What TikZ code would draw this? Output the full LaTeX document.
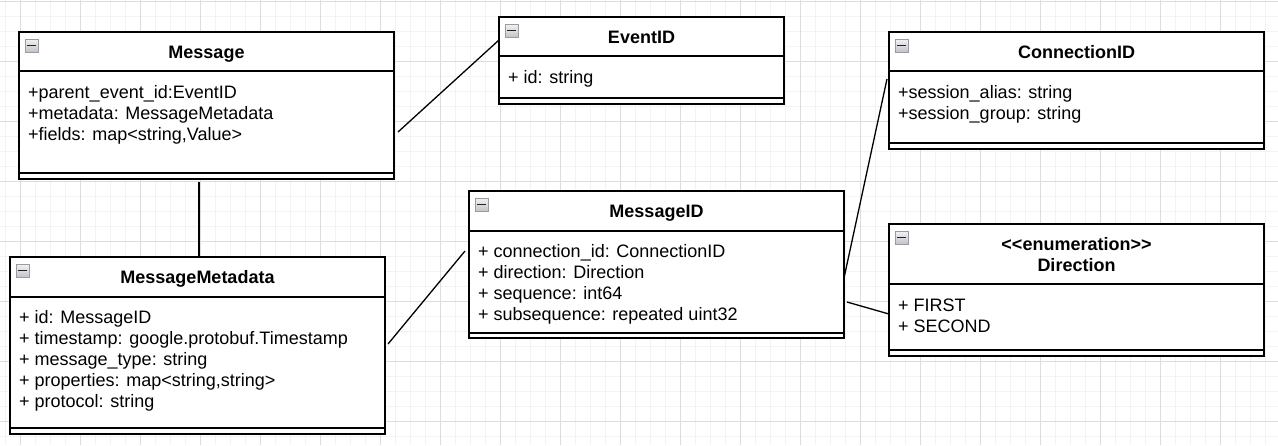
\documentclass[tikz,border=0pt]{standalone}
\usepackage{fontspec}
\setmainfont{Liberation Sans}
\usetikzlibrary{calc}
\definecolor{gridmajor}{HTML}{DDDDDD}
\definecolor{gridminor}{HTML}{F3F3F3}
\definecolor{iconborder}{HTML}{9A9AA6}
\definecolor{icontop}{HTML}{F2F2F2}
\definecolor{iconbottom}{HTML}{C4C4C8}
\definecolor{iconbar}{HTML}{222222}
\newcommand{\umlclass}[7]{%
  \node[classbox, minimum width={#4-#2}, minimum height={#7-#3}] (#1) at ({(#2+#4)/2},{(#3+#7)/2}) {};
  \draw[boxline] (#2,#5) -- (#4,#5);
  \draw[boxline] (#2,#6) -- (#4,#6);
  \node[iconbox] (#1-icon) at ({#2+12.5},{#3+13.5}) {};
  \draw[iconminus] ($(#1-icon.center)+(-4.5,0)$) -- ($(#1-icon.center)+(4.5,0)$);
}
\begin{document}
\begin{tikzpicture}[x=1pt,y=-1pt,
  font=\fontsize{18}{21}\selectfont,
  minorgrid/.style={draw=gridminor, line width=1pt},
  majorgrid/.style={draw=gridmajor, line width=1pt},
  classbox/.style={draw=black, fill=white, line width=1.5pt, inner sep=0pt, outer sep=0pt},
  boxline/.style={draw=black, line width=1.5pt},
  conn/.style={draw=black, line width=1.3pt},
  ttl/.style={font=\fontsize{18}{21}\selectfont\bfseries, anchor=base, inner sep=0pt},
  attr/.style={anchor=base west, inner sep=0pt},
  iconbox/.style={draw=iconborder, top color=icontop, bottom color=iconbottom, minimum size=13pt, inner sep=0pt, line width=0.8pt},
  iconminus/.style={draw=iconbar, line width=1.6pt}
]
\useasboundingbox (0,0) rectangle (1278,445);
\fill[white] (0,0) rectangle (1278,445);
% grid
\foreach \x in {5,20,...,1278} \draw[minorgrid] (\x,0) -- (\x,445);
\foreach \y in {1.5,16.5,...,445} \draw[minorgrid] (0,\y) -- (1278,\y);
\foreach \x in {20,80,...,1278} \draw[majorgrid] (\x,0) -- (\x,445);
\foreach \y in {1.5,61.5,...,445} \draw[majorgrid] (0,\y) -- (1278,\y);

% connector end points
\coordinate (c1a) at (398,132); \coordinate (c1b) at (499,40);
\coordinate (c2a) at (199,182); \coordinate (c2b) at (199,257);
\coordinate (c3a) at (388,344); \coordinate (c3b) at (465,251);
\coordinate (c4a) at (844,278); \coordinate (c4b) at (887,79);
\coordinate (c5a) at (847,302); \coordinate (c5b) at (889,314);
\draw[conn] (c1a) -- (c1b);
\draw[conn] (c2a) -- (c2b);
\draw[conn] (c3a) -- (c3b);
\draw[conn] (c4a) -- (c4b);
\draw[conn] (c5a) -- (c5b);

% Message
\umlclass{msg}{19}{32}{394}{71}{173}{179}
\node[ttl] (msg-t) at (206.5,58) {Message};
\node[attr] (msg-a1) at (28,98) {+parent\_event\_id:EventID};
\node[attr] (msg-a2) at (28,119) {+metadata: MessageMetadata};
\node[attr] (msg-a3) at (28,140) {+fields: map<string,Value>};

% EventID
\umlclass{eid}{499}{17}{784}{56}{98}{104}
\node[ttl] (eid-t) at (641.5,43) {EventID};
\node[attr] (eid-a1) at (508,83) {+ id: string};

% ConnectionID
\umlclass{cid}{889}{32}{1264}{71}{143}{149}
\node[ttl] (cid-t) at (1076.5,58) {ConnectionID};
\node[attr] (cid-a1) at (898,98) {+session\_alias: string};
\node[attr] (cid-a2) at (898,119) {+session\_group: string};

% Direction
\umlclass{dir}{889}{224}{1264}{284}{350}{356}
\node[ttl] (dir-t1) at (1076.5,250.5) {<\kern0pt<enumeration>\kern0pt>};
\node[ttl] (dir-t2) at (1076.5,271.5) {Direction};
\node[attr] (dir-a1) at (898,311) {+ FIRST};
\node[attr] (dir-a2) at (898,332) {+ SECOND};

% MessageMetadata
\umlclass{mmd}{10}{257}{385}{297}{428}{434}
\node[ttl] (mmd-t) at (197.5,283.5) {MessageMetadata};
\node[attr] (mmd-a1) at (19,323.5) {+ id: MessageID};
\node[attr] (mmd-a2) at (19,344.5) {+ timestamp: google.protobuf.Timestamp};
\node[attr] (mmd-a3) at (19,365.5) {+ message\_type: string};
\node[attr] (mmd-a4) at (19,386.5) {+ properties: map<string,string>};
\node[attr] (mmd-a5) at (19,407.5) {+ protocol: string};

% MessageID
\umlclass{mid}{469}{191}{844}{231}{333}{338}
\node[ttl] (mid-t) at (656.5,217.5) {MessageID};
\node[attr] (mid-a1) at (478,257.5) {+ connection\_id: ConnectionID};
\node[attr] (mid-a2) at (478,278) {+ direction: Direction};
\node[attr] (mid-a3) at (478,299.5) {+ sequence: int64};
\node[attr] (mid-a4) at (478,320.5) {+ subsequence: repeated uint32};
\end{tikzpicture}
\end{document}
